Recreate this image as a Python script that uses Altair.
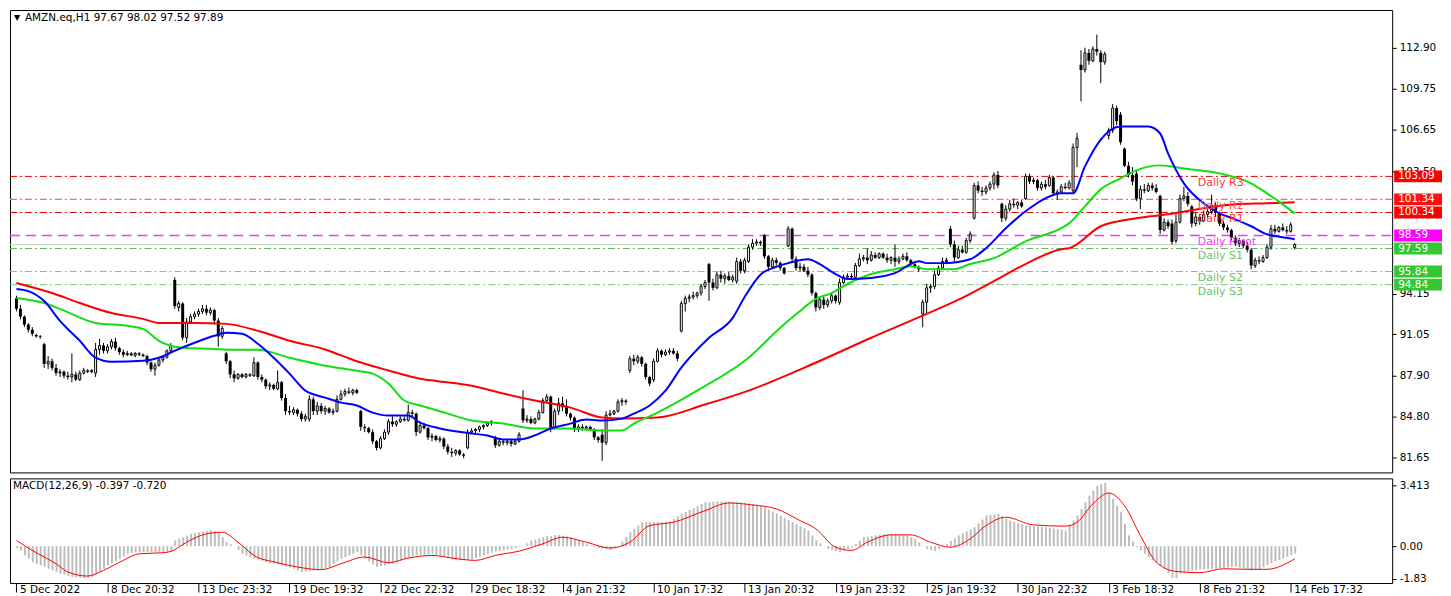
import altair as alt
import pandas as pd

# ---------------- data ----------------
OPEN = [93.8, 93.0, 92.4, 91.8, 91.4, 91.0, 90.9, 90.3, 88.8, 89.0,
        88.5, 88.1, 88.2, 87.9, 87.8, 88.0, 87.6, 88.1, 88.3, 88.2,
        88.1, 89.9, 90.2, 89.8, 90.1, 90.5, 90.0, 89.7, 89.5, 89.6,
        89.45, 89.6, 89.5, 89.4, 88.9, 88.4, 88.7, 89.1, 89.3, 89.8,
        95.2, 93.1, 93.4, 90.8, 92.0, 92.4, 92.6, 92.8, 93.0, 92.7,
        92.9, 92.1, 90.9, 89.6, 89.0, 88.0, 87.7, 88.0, 87.8, 88.0,
        87.9, 88.9, 87.8, 87.6, 87.1, 87.2, 86.9, 87.4, 86.2, 85.2,
        85.1, 85.3, 85.0, 84.6, 84.6, 86.1, 85.2, 85.6, 85.2, 85.4,
        85.1, 85.2, 86.1, 86.5, 86.7, 86.6, 86.8, 85.2, 84.0, 83.9,
        83.6, 82.9, 82.4, 83.1, 83.6, 84.4, 84.2, 84.4, 84.6, 84.5,
        85.1, 85.0, 83.6, 84.1, 83.9, 83.2, 83.3, 83.0, 83.1, 82.5,
        82.1, 82.0, 82.2, 81.9, 82.4, 83.6, 83.7, 83.8, 84.0, 84.1,
        84.3, 83.2, 82.6, 82.9, 82.8, 82.9, 82.7, 82.9, 85.4, 84.5,
        84.6, 84.3, 84.6, 85.1, 86.0, 86.3, 83.9, 85.2, 85.8, 85.5,
        85.0, 84.7, 83.8, 84.0, 83.9, 84.0, 83.8, 83.2, 83.4, 82.8,
        84.9, 85.0, 85.2, 85.9, 86.0, 88.3, 89.2, 89.0, 89.3, 88.8,
        87.8, 87.6, 89.0, 89.8, 89.5, 89.7, 89.8, 89.6, 91.3, 93.4,
        93.8, 93.9, 94.0, 94.2, 94.7, 96.4, 95.0, 94.6, 95.6, 95.3,
        95.5, 95.2, 95.1, 96.6, 95.9, 96.6, 97.7, 98.0, 98.1, 98.6,
        97.0, 96.2, 96.7, 96.5, 96.1, 97.8, 99.1, 96.8, 96.1, 96.2,
        95.9, 95.6, 94.2, 93.1, 93.7, 93.3, 93.6, 94.0, 93.5, 95.0,
        95.4, 95.5, 95.4, 96.3, 96.8, 96.9, 96.7, 97.1, 96.9, 97.2,
        96.9, 96.7, 96.9, 96.6, 96.8, 97.0, 96.7, 96.4, 96.2, 92.6,
        93.5, 94.6, 94.7, 95.6, 96.1, 96.6, 99.1, 97.9, 96.9, 97.5,
        97.3, 98.2, 99.9, 102.4, 102.0, 101.9, 102.2, 102.5, 103.2, 101.0,
        99.9, 100.6, 101.0, 100.9, 101.1, 101.4, 103.1, 102.7, 102.8, 102.2,
        102.5, 102.4, 103.0, 101.8, 101.9, 102.3, 102.2, 102.0, 105.3, 111.6,
        111.2, 112.5, 111.9, 112.8, 112.5, 111.8, 106.2, 106.6, 108.3, 107.8,
        105.2, 103.9, 103.2, 103.3, 101.4, 102.1, 102.0, 102.4, 102.2, 101.6,
        99.0, 99.6, 99.5, 98.2, 99.6, 101.4, 101.6, 100.8, 99.5, 100.0,
        99.7, 100.2, 100.4, 100.9, 100.3, 99.5, 99.2, 99.0, 98.4, 98.0,
        98.2, 97.8, 97.5, 96.3, 96.7, 96.6, 96.9, 97.7, 99.1, 98.9,
        99.2, 99.0, 98.9, 97.67]
HIGH = [94.0, 93.3, 92.5, 91.9, 91.6, 91.1, 91.0, 90.4, 89.4, 89.2,
        88.8, 88.4, 88.3, 88.2, 89.6, 88.2, 88.3, 88.5, 88.4, 88.4,
        90.4, 90.7, 90.4, 90.3, 90.7, 90.8, 90.1, 89.9, 89.8, 89.7,
        89.7, 89.7, 89.6, 89.5, 89.0, 88.9, 89.2, 89.4, 89.9, 90.4,
        95.4, 93.6, 93.5, 92.3, 92.6, 92.8, 93.0, 93.3, 93.3, 93.1,
        93.0, 92.3, 91.7, 89.7, 89.1, 88.3, 88.1, 88.1, 88.1, 88.1,
        89.3, 89.0, 88.0, 87.7, 87.4, 87.3, 88.3, 87.5, 86.5, 85.6,
        85.5, 85.4, 85.2, 85.0, 86.4, 86.3, 85.9, 85.8, 85.6, 85.5,
        85.4, 86.4, 86.8, 86.9, 87.0, 86.9, 86.9, 85.3, 84.2, 84.0,
        83.8, 83.0, 83.3, 83.8, 84.6, 84.8, 84.5, 84.8, 84.8, 85.7,
        85.3, 85.1, 84.4, 84.3, 84.0, 83.5, 83.4, 83.3, 83.2, 82.7,
        82.4, 82.3, 82.3, 82.0, 83.8, 83.9, 83.9, 84.1, 84.2, 84.4,
        84.5, 83.3, 83.1, 83.0, 83.1, 83.0, 83.0, 83.6, 86.8, 84.9,
        84.8, 84.7, 85.3, 86.2, 86.5, 86.4, 85.4, 86.2, 86.3, 86.1,
        85.1, 84.8, 84.2, 84.2, 84.1, 84.1, 83.9, 83.3, 83.8, 85.2,
        85.3, 85.3, 86.1, 86.2, 86.1, 89.4, 89.5, 89.5, 89.4, 88.9,
        87.9, 89.2, 90.0, 89.9, 89.9, 90.0, 90.0, 89.8, 93.6, 94.0,
        94.1, 94.3, 94.3, 94.9, 95.2, 96.5, 95.3, 95.8, 95.9, 95.7,
        95.8, 95.6, 96.9, 96.8, 96.9, 97.9, 98.3, 98.3, 98.2, 98.7,
        97.1, 96.9, 96.9, 96.6, 96.2, 99.3, 99.2, 97.0, 96.5, 96.4,
        96.2, 95.7, 94.3, 93.9, 93.9, 93.8, 94.2, 94.1, 95.3, 95.6,
        95.7, 95.7, 96.5, 97.2, 97.1, 97.6, 97.4, 97.3, 97.3, 97.3,
        97.2, 97.0, 97.9, 97.0, 97.2, 97.3, 96.8, 96.6, 96.3, 93.7,
        94.9, 94.9, 95.9, 96.3, 96.9, 96.9, 99.3, 98.2, 97.8, 97.8,
        98.4, 98.9, 102.6, 102.7, 102.3, 102.4, 102.7, 103.4, 103.5, 101.1,
        100.9, 101.3, 101.4, 101.2, 101.3, 103.3, 103.3, 103.0, 102.9, 102.7,
        102.8, 103.2, 103.1, 102.1, 102.5, 102.6, 102.8, 105.6, 106.4, 112.7,
        112.9, 112.8, 113.0, 113.9, 112.7, 112.6, 106.8, 108.6, 108.5, 108.0,
        105.3, 104.2, 103.8, 103.5, 102.4, 102.5, 102.6, 102.6, 102.5, 101.7,
        99.9, 99.8, 99.8, 100.3, 101.7, 102.3, 101.9, 100.9, 100.3, 100.2,
        100.5, 100.6, 101.7, 101.1, 100.4, 99.7, 99.4, 99.1, 98.6, 98.4,
        98.3, 98.1, 97.6, 96.9, 97.0, 97.1, 97.9, 99.4, 99.4, 99.3,
        99.5, 99.3, 99.6, 98.02]
LOW = [92.8, 92.2, 91.6, 91.2, 90.9, 90.8, 90.7, 88.5, 88.4, 88.3,
       87.9, 87.8, 87.7, 87.6, 87.4, 87.5, 87.5, 88.0, 88.1, 88.1,
       87.8, 89.5, 89.6, 89.6, 89.9, 89.8, 89.5, 89.3, 89.4, 89.4,
       89.3, 89.4, 89.3, 88.7, 88.2, 87.9, 88.6, 88.9, 89.2, 89.7,
       93.0, 92.8, 90.6, 90.4, 91.9, 92.2, 92.4, 92.6, 92.5, 92.5,
       91.8, 90.1, 90.7, 88.8, 87.7, 87.4, 87.6, 87.7, 87.7, 87.8,
       87.8, 87.6, 87.4, 86.9, 86.8, 86.8, 86.8, 86.0, 84.9, 84.9,
       84.9, 84.8, 84.4, 84.4, 84.4, 84.9, 84.9, 85.0, 84.9, 85.0,
       84.9, 85.1, 86.0, 86.3, 86.5, 86.4, 86.5, 83.7, 83.6, 83.5,
       82.7, 82.2, 82.3, 83.0, 83.4, 84.0, 84.0, 84.3, 84.4, 84.4,
       84.8, 83.3, 83.5, 83.8, 83.0, 82.9, 82.9, 82.8, 82.3, 81.9,
       81.7, 81.8, 81.8, 81.6, 82.3, 83.5, 83.5, 83.6, 83.8, 84.0,
       84.1, 82.4, 82.5, 82.6, 82.6, 82.5, 82.6, 82.8, 84.3, 84.3,
       84.2, 84.2, 84.5, 85.0, 85.8, 83.6, 83.8, 84.9, 85.2, 84.8,
       84.5, 83.6, 83.6, 83.7, 83.7, 83.7, 83.0, 82.8, 81.4, 82.6,
       84.8, 84.9, 85.1, 85.6, 85.7, 88.1, 88.7, 88.8, 88.6, 87.6,
       87.1, 87.4, 88.9, 89.3, 89.4, 89.5, 89.5, 89.0, 91.2, 92.8,
       93.5, 93.7, 93.8, 94.0, 94.5, 93.6, 94.4, 94.5, 95.0, 94.9,
       95.1, 95.0, 94.9, 95.7, 95.7, 96.5, 97.5, 97.8, 97.8, 96.8,
       96.0, 96.1, 96.3, 95.9, 95.6, 97.7, 96.6, 95.9, 95.8, 95.8,
       95.4, 94.0, 92.8, 92.9, 93.0, 93.1, 93.4, 93.4, 93.3, 94.9,
       95.2, 95.2, 95.3, 96.2, 96.6, 96.4, 96.6, 96.8, 96.8, 96.8,
       96.5, 96.4, 96.2, 96.4, 96.7, 96.6, 96.3, 96.1, 95.8, 91.6,
       92.6, 94.2, 94.5, 95.5, 96.0, 96.4, 97.7, 96.6, 96.8, 97.2,
       97.2, 98.0, 99.8, 101.8, 101.6, 101.7, 102.0, 102.1, 102.2, 99.6,
       99.7, 100.4, 100.7, 100.6, 100.7, 101.3, 102.5, 102.5, 102.0, 102.0,
       102.1, 102.3, 101.6, 101.3, 101.8, 102.1, 102.1, 101.8, 103.8, 108.8,
       111.0, 111.6, 111.8, 112.3, 110.2, 111.6, 105.9, 106.4, 107.0, 105.5,
       103.8, 103.0, 102.4, 101.2, 100.6, 101.8, 101.9, 102.0, 101.8, 98.7,
       98.9, 99.1, 97.9, 98.0, 99.5, 101.2, 100.8, 99.2, 99.3, 99.4,
       99.6, 99.9, 100.2, 100.0, 99.3, 99.0, 98.8, 98.2, 97.8, 97.7,
       97.6, 97.3, 96.0, 96.1, 96.4, 96.5, 96.8, 97.5, 98.7, 98.8,
       98.9, 98.7, 98.8, 97.52]
CLOSE = [93.0, 92.4, 91.8, 91.4, 91.1, 90.9, 90.85, 88.8, 89.0, 88.5,
         88.1, 88.2, 87.9, 87.8, 88.0, 87.6, 88.1, 88.3, 88.2, 88.3,
         89.9, 90.2, 89.8, 90.1, 90.5, 90.0, 89.7, 89.5, 89.6, 89.45,
         89.6, 89.5, 89.4, 88.9, 88.4, 88.7, 89.1, 89.3, 89.8, 90.2,
         93.2, 93.4, 90.8, 92.0, 92.4, 92.6, 92.8, 93.0, 92.7, 92.9,
         92.1, 90.9, 91.5, 89.0, 88.0, 87.7, 88.0, 87.8, 88.0, 87.9,
         88.9, 87.8, 87.6, 87.1, 87.2, 86.9, 87.4, 86.2, 85.2, 85.1,
         85.3, 85.0, 84.6, 84.8, 86.1, 85.2, 85.6, 85.2, 85.4, 85.1,
         85.2, 86.1, 86.5, 86.7, 86.6, 86.8, 86.6, 84.0, 83.9, 83.6,
         82.9, 82.4, 83.1, 83.6, 84.4, 84.2, 84.4, 84.6, 84.5, 85.1,
         85.0, 83.6, 84.1, 83.9, 83.2, 83.3, 83.0, 83.1, 82.5, 82.1,
         82.0, 82.2, 81.9, 81.8, 83.6, 83.7, 83.8, 84.0, 84.1, 84.3,
         84.4, 82.6, 82.9, 82.8, 82.9, 82.7, 82.9, 83.4, 84.5, 84.6,
         84.3, 84.6, 85.1, 86.0, 86.3, 83.9, 85.2, 85.8, 85.5, 85.0,
         84.7, 83.8, 84.0, 83.9, 84.0, 83.8, 83.2, 83.0, 82.8, 84.9,
         85.0, 85.2, 85.9, 86.0, 85.9, 89.2, 89.0, 89.3, 88.8, 87.8,
         87.3, 89.0, 89.8, 89.5, 89.7, 89.8, 89.6, 89.2, 93.4, 93.8,
         93.9, 94.0, 94.2, 94.7, 95.0, 95.0, 94.6, 95.6, 95.3, 95.5,
         95.2, 95.4, 96.6, 95.9, 96.7, 97.7, 98.0, 98.1, 98.0, 97.0,
         96.2, 96.7, 96.5, 96.1, 95.7, 99.1, 96.8, 96.1, 96.2, 95.9,
         95.6, 94.2, 93.1, 93.7, 93.3, 93.6, 94.0, 93.6, 95.0, 95.4,
         95.5, 95.4, 96.3, 96.8, 96.9, 96.7, 97.1, 96.9, 97.2, 96.9,
         96.7, 96.9, 96.6, 96.8, 97.0, 96.7, 96.4, 96.2, 96.0, 93.5,
         94.6, 94.7, 95.6, 96.1, 96.6, 96.7, 97.9, 96.9, 97.5, 97.3,
         98.2, 98.7, 102.4, 102.0, 101.9, 102.2, 102.5, 103.2, 102.4, 99.9,
         100.6, 101.0, 100.9, 101.1, 100.8, 103.1, 102.7, 102.8, 102.2, 102.5,
         102.3, 103.0, 101.8, 101.9, 102.3, 102.2, 102.6, 105.3, 106.0, 111.2,
         112.5, 111.9, 112.8, 112.6, 111.8, 112.4, 106.6, 108.3, 107.3, 105.7,
         103.9, 103.2, 102.7, 101.4, 102.1, 102.0, 102.4, 102.2, 101.9, 99.0,
         99.6, 99.3, 98.1, 99.6, 101.4, 101.6, 101.0, 99.5, 100.0, 99.7,
         100.2, 100.4, 100.9, 100.3, 99.5, 99.2, 99.0, 98.4, 98.0, 98.2,
         97.8, 97.5, 96.3, 96.7, 96.6, 96.9, 97.7, 99.1, 98.9, 99.2,
         99.0, 98.9, 99.4, 97.89]

BLUE_I = [0, 3, 7, 11, 16, 20, 24, 32, 36, 40, 45, 50, 53, 57, 61, 65, 69, 73, 78, 82,
          86, 90, 94, 99, 102, 107, 115, 119, 123, 127, 131, 135, 140, 144, 148, 153, 156, 160, 164, 168,
          175, 181, 184, 188, 192, 195, 200, 203, 207, 210, 216, 222, 228, 230, 234, 241, 245, 250, 255, 260,
          264, 267, 270, 274, 279, 283, 286, 289, 291, 295, 300, 304, 308, 312, 316, 320, 323]
BLUE_V = [94.51, 94.35, 93.59, 92.08, 90.56, 89.27, 88.96, 89.04, 89.27, 89.80, 90.41, 90.94, 91.17, 91.09, 90.33, 89.27, 88.06, 86.76, 86.23, 85.85,
          85.63, 85.09, 84.86, 84.86, 84.33, 83.88, 83.50, 83.35, 83.04, 83.04, 83.35, 83.88, 84.25, 84.56, 84.48, 84.63, 85.01, 85.63, 86.76, 88.51,
          90.79, 92.31, 93.9, 95.6, 96.2, 96.48, 96.78, 96.41, 95.65, 95.27, 95.34, 95.72, 96.63, 96.48, 96.48, 96.78, 97.62, 99.14, 100.43, 101.42,
          101.80, 101.80, 103.85, 105.9, 106.89, 106.89, 106.89, 106.36, 104.84, 102.56, 101.04, 100.28, 99.82, 99.29, 98.68, 98.45, 98.30]
GREEN_I = [0, 7, 11, 20, 28, 32, 36, 42, 49, 55, 61, 69, 78, 86, 90, 94, 98, 102, 109, 115,
           123, 131, 140, 148, 153, 156, 162, 172, 185, 193, 198, 202, 206, 210, 216, 222, 226, 230, 237, 241,
           247, 255, 264, 266, 270, 274, 279, 283, 289, 295, 304, 312, 316, 320, 323]
GREEN_V = [93.83, 93.44, 92.99, 91.92, 91.70, 91.47, 90.56, 90.03, 89.95, 89.88, 89.88, 89.27, 88.66, 88.28, 88.06, 87.30, 86.01, 85.63, 85.01, 84.48,
           84.25, 83.88, 83.88, 83.73, 83.73, 84.25, 85.09, 86.76, 89.27, 91.55, 92.83, 93.75, 94.20, 94.89, 95.65, 96.02, 96.25, 96.02, 96.02, 96.41,
           96.86, 98.14, 99.14, 99.51, 100.81, 102.1, 102.94, 103.55, 103.93, 103.7, 103.32, 102.56, 101.8, 100.96, 100.27]
RED_I = [0, 9, 16, 24, 32, 36, 45, 53, 61, 69, 78, 86, 94, 102, 106, 115, 123, 131, 140, 148,
         153, 162, 174, 185, 199, 216, 220, 230, 239, 247, 255, 264, 266, 274, 283, 291, 300, 308, 316, 323]
RED_V = [94.97, 94.20, 93.44, 92.68, 92.23, 91.92, 91.92, 91.85, 91.32, 90.56, 89.9, 89.0, 88.3, 87.67, 87.5, 87.14, 86.54, 86.01, 85.47, 84.71,
         84.63, 84.71, 85.7, 86.76, 88.5, 90.79, 91.32, 92.61, 93.83, 95.11, 96.41, 97.54, 97.62, 99.29, 99.90, 100.2, 100.66, 100.96, 101.04, 101.12]

MACD_HIST = [-0.10, -0.25, -0.52, -0.70, -0.90, -1.00, -1.08, -1.15, -1.27, -1.36,
             -1.45, -1.55, -1.61, -1.67, -1.73, -1.76, -1.78, -1.79, -1.77, -1.73,
             -1.60, -1.45, -1.27, -1.08, -0.95, -0.83, -0.71, -0.57, -0.43, -0.38,
             -0.34, -0.34, -0.34, -0.34, -0.34, -0.34, -0.33, -0.33, -0.32, -0.30,
             0.32, 0.42, 0.50, 0.60, 0.69, 0.74, 0.78, 0.82, 0.85, 0.88,
             0.84, 0.78, 0.50, 0.22, 0.10, 0.00, -0.22, -0.43, -0.53, -0.62,
             -0.71, -0.77, -0.83, -0.89, -0.94, -0.99, -1.04, -1.08, -1.14, -1.20,
             -1.27, -1.36, -1.45, -1.43, -1.41, -1.38, -1.36, -1.30, -1.23, -1.17,
             -1.02, -0.86, -0.71, -0.62, -0.52, -0.43, -0.34, -0.52, -0.71, -0.86,
             -1.02, -1.17, -1.12, -1.08, -1.03, -0.99, -0.90, -0.80, -0.71, -0.65,
             -0.58, -0.52, -0.50, -0.47, -0.45, -0.43, -0.49, -0.55, -0.61, -0.67,
             -0.74, -0.80, -0.79, -0.78, -0.77, -0.75, -0.67, -0.60, -0.52, -0.45,
             -0.37, -0.30, -0.26, -0.22, -0.19, -0.15, -0.10, -0.05, 0.00, 0.16,
             0.32, 0.38, 0.44, 0.50, 0.56, 0.58, 0.61, 0.63, 0.59, 0.55,
             0.50, 0.41, 0.32, 0.22, 0.13, 0.05, -0.03, -0.11, -0.14, -0.17,
             -0.19, -0.10, 0.00, 0.26, 0.52, 0.78, 0.97, 1.15, 1.34, 1.34,
             1.34, 1.34, 1.34, 1.35, 1.37, 1.38, 1.52, 1.67, 1.81, 1.92,
             2.03, 2.14, 2.26, 2.37, 2.46, 2.47, 2.49, 2.50, 2.50, 2.50,
             2.50, 2.50, 2.47, 2.45, 2.42, 2.40, 2.37, 2.31, 2.24, 2.18,
             2.06, 1.95, 1.83, 1.71, 1.59, 1.46, 1.34, 1.23, 1.11, 1.00,
             0.88, 0.60, 0.32, 0.16, 0.00, -0.15, -0.21, -0.28, -0.34, -0.25,
             -0.15, -0.06, 0.13, 0.31, 0.50, 0.53, 0.57, 0.60, 0.63, 0.65,
             0.67, 0.69, 0.67, 0.65, 0.62, 0.60, 0.50, 0.41, 0.22, 0.03,
             -0.15, -0.22, -0.28, -0.14, 0.00, 0.13, 0.29, 0.44, 0.60, 0.71,
             0.83, 0.94, 1.06, 1.28, 1.49, 1.71, 1.74, 1.78, 1.81, 1.68,
             1.56, 1.43, 1.36, 1.29, 1.22, 1.15, 1.13, 1.12, 1.10, 1.08,
             1.06, 1.02, 0.99, 0.95, 0.92, 0.88, 1.16, 1.43, 1.71, 2.08,
             2.46, 2.83, 3.11, 3.39, 3.47, 3.54, 3.02, 2.65, 2.27, 1.90,
             1.25, 0.60, 0.27, -0.06, -0.24, -0.43, -0.61, -0.78, -0.94, -1.11,
             -1.27, -1.53, -1.78, -1.80, -1.55, -1.48, -1.42, -1.38, -1.35, -1.32,
             -1.30, -1.29, -1.28, -1.27, -1.25, -1.22, -1.20, -1.17, -1.15, -1.20,
             -1.25, -1.30, -1.36, -1.33, -1.30, -1.18, -1.05, -0.95, -0.85, -0.78,
             -0.70, -0.60, -0.50, -0.40]
SIGNAL_I = [0, 4, 10, 13, 18, 22, 27, 31, 37, 39, 43, 48, 52, 56, 60, 66, 71, 77, 82, 88,
            94, 99, 105, 110, 116, 121, 127, 133, 138, 144, 150, 155, 160, 166, 174, 180, 186, 192, 198, 202,
            207, 211, 215, 221, 226, 231, 236, 241, 245, 250, 257, 265, 268, 272, 276, 280, 284, 288, 293, 299,
            305, 311, 316, 323]
SIGNAL_V = [0.32, -0.24, -0.99, -1.45, -1.68, -1.36, -0.80, -0.43, -0.37, -0.30, 0.22, 0.69, 0.78, 0.22, -0.52, -0.93, -1.17, -1.32, -0.99, -0.61,
            -0.93, -0.67, -0.52, -0.67, -0.80, -0.52, -0.28, 0.13, 0.50, 0.22, -0.11, 0.22, 1.15, 1.34, 1.99, 2.42, 2.31, 2.09, 1.43, 0.97,
            -0.06, -0.24, 0.22, 0.63, 0.63, 0.22, -0.06, 0.41, 1.15, 1.62, 1.19, 1.12, 1.34, 2.37, 2.98, 2.27, 0.60, -0.89, -1.42, -1.49,
            -1.27, -1.30, -1.30, -0.72]

PIVOT_NAMES = ["Daily R3", "Daily R2", "Daily R1", "Daily Pivot", "Daily S1", "Daily S2", "Daily S3"]
PIVOT_VALUES = [103.09, 101.34, 100.34, 98.59, 97.59, 95.84, 94.84]
BID = 97.89

TICK_BARS = [0, 23, 46, 69, 92, 115, 138, 161, 184, 207, 230, 253, 276, 299, 322]
TICK_LABELS = ["5 Dec 2022", "8 Dec 20:32", "13 Dec 23:32", "19 Dec 19:32", "22 Dec 22:32",
               "29 Dec 18:32", "4 Jan 21:32", "10 Jan 17:32", "13 Jan 20:32", "19 Jan 23:32",
               "25 Jan 19:32", "30 Jan 22:32", "3 Feb 18:32", "8 Feb 21:32", "14 Feb 17:32"]
PRICE_TICKS = [81.65, 84.80, 87.90, 91.05, 94.15, 103.50, 106.65, 109.75, 112.90]
MACD_TICKS = [3.413, 0.0, -1.83]

TITLE = "AMZN.eq,H1  97.67 98.02 97.52 97.89"
MACD_TITLE = "MACD(12,26,9) -0.397 -0.720"

# ---------------- styling ----------------
W = 1387
H_MAIN = 464
H_MACD = 105
X_DOMAIN = [-0.375, -0.375 + W / 4.0]
P_DOMAIN = [80.53, 115.77]
M_DOMAIN = [-2.07, 3.80]
FONT = "DejaVu Sans"
FS = 10.5

LINE_COLORS = ["#e00000", "#ff6a6a", "#e00000", "#ff33ff", "#55bb55", "#77cc77", "#77cc77"]
LINE_DASH = [[7, 3, 2, 3], [7, 3, 2, 3], [7, 3, 2, 3], [10, 6], [7, 3, 2, 3], [7, 3, 2, 3], [7, 3, 2, 3]]
LINE_W = [1, 1.3, 1, 1.5, 1, 1, 1]
TEXT_COLORS = ["#ff3333", "#ff4d4d", "#ff3333", "#ff33ff", "#66c466", "#66c466", "#66c466"]
TAG_COLORS = ["#ff0000", "#ff1010", "#ff0000", "#ff00ff", "#32c832", "#32c832", "#32c832"]

n = len(CLOSE)
candles = pd.DataFrame({"i": list(range(n)), "o": OPEN, "h": HIGH, "l": LOW, "c": CLOSE})
candles["lo"] = candles[["o", "c"]].min(axis=1)
candles["hi"] = candles[["o", "c"]].max(axis=1)
bull = candles[candles["c"] >= candles["o"]]
bear = candles[candles["c"] < candles["o"]]

xs = alt.Scale(domain=X_DOMAIN, nice=False, zero=False)
X_MAIN = alt.X("i:Q", scale=xs, axis=None, title=None)

ys = alt.Scale(domain=P_DOMAIN, nice=False, zero=False)
yaxis = alt.Axis(orient="right", values=PRICE_TICKS, labelExpr="format(datum.value, '.2f')",
                 tickSize=4, labelPadding=3, domain=False, grid=False, labelOverlap=False,
                 labelFlush=False, labelBound=False, title=None)


def YP(field):
    return alt.Y(field, scale=ys, axis=yaxis, title=None)


layers = []
# pivot lines
for val, lc, dash, sw in zip(PIVOT_VALUES, LINE_COLORS, LINE_DASH, LINE_W):
    layers.append(alt.Chart(pd.DataFrame({"p": [val]})).mark_rule(
        color=lc, strokeDash=dash, strokeWidth=sw).encode(
        x=alt.value(0), x2=alt.value(W), y=YP("p:Q")))
# bid line
layers.append(alt.Chart(pd.DataFrame({"p": [BID]})).mark_rule(color="#c8c8c8", strokeWidth=1).encode(
    x=alt.value(0), x2=alt.value(W), y=YP("p:Q")))
# candles
layers.append(alt.Chart(candles).mark_rule(color="black", strokeWidth=1).encode(
    x=X_MAIN, y=YP("l:Q"), y2="h:Q"))
layers.append(alt.Chart(bear).mark_bar(size=3, color="black").encode(
    x=X_MAIN, y=YP("lo:Q"), y2="hi:Q"))
layers.append(alt.Chart(bull).mark_bar(size=2, fill="white", stroke="black", strokeWidth=1).encode(
    x=X_MAIN, y=YP("lo:Q"), y2="hi:Q"))
# moving averages
for I, V, col in [(RED_I, RED_V, "#ff0000"), (GREEN_I, GREEN_V, "#11e011"), (BLUE_I, BLUE_V, "#0000ff")]:
    layers.append(alt.Chart(pd.DataFrame({"i": I, "v": V})).mark_line(
        color=col, strokeWidth=2, interpolate="monotone").encode(x=X_MAIN, y=YP("v:Q")))
# pivot labels
for name, val, tc in zip(PIVOT_NAMES, PIVOT_VALUES, TEXT_COLORS):
    layers.append(alt.Chart(pd.DataFrame({"p": [val], "t": [name]})).mark_text(
        align="left", baseline="top", dy=1, font=FONT, fontSize=11, color=tc).encode(
        x=alt.value(1192), y=YP("p:Q"), text="t:N"))
# price tags on the right scale
for val, tg in zip(PIVOT_VALUES, TAG_COLORS):
    df = pd.DataFrame({"p": [val], "t": ["%.2f" % val]})
    layers.append(alt.Chart(df).mark_rect(color=tg, yOffset=-6, y2Offset=6).encode(
        x=alt.value(W + 2), x2=alt.value(W + 50), y=YP("p:Q"), y2="p:Q"))
    layers.append(alt.Chart(df).mark_text(align="left", baseline="middle", font=FONT, fontSize=FS,
                                          color="white").encode(
        x=alt.value(W + 6), y=YP("p:Q"), text="t:N"))
# title
layers.append(alt.Chart(pd.DataFrame({"t": ["\u25BC"]})).mark_text(
    align="center", baseline="middle", font=FONT, fontSize=8, color="black").encode(
    x=alt.value(7), y=alt.value(8), text="t:N"))
layers.append(alt.Chart(pd.DataFrame({"t": [TITLE]})).mark_text(
    align="left", baseline="middle", font=FONT, fontSize=FS, color="black").encode(
    x=alt.value(15), y=alt.value(8), text="t:N"))

main = alt.layer(*layers).properties(width=W, height=H_MAIN)

# ---------------- MACD panel ----------------
label_expr = "[" + ",".join("'%s'" % s for s in TICK_LABELS) + "][round(datum.value/23)]"
xaxis = alt.Axis(values=TICK_BARS, labelExpr=label_expr, labelAlign="left", labelBaseline="top",
                 labelOffset=3, labelPadding=-7, tickSize=9, domain=False, grid=False,
                 labelOverlap=False, labelFlush=False, labelBound=False, title=None)
X_MACD = alt.X("i:Q", scale=xs, axis=xaxis, title=None)
ms = alt.Scale(domain=M_DOMAIN, nice=False, zero=False)
maxis = alt.Axis(orient="right", values=MACD_TICKS,
                 labelExpr="datum.value > 3 ? '3.413' : (datum.value < -1 ? '-1.83' : '0.00')",
                 tickSize=4, labelPadding=3, domain=False, grid=False, labelOverlap=False,
                 labelFlush=False, labelBound=False, title=None)


def YM(field):
    return alt.Y(field, scale=ms, axis=maxis, title=None)


hist = pd.DataFrame({"i": list(range(n)), "v": MACD_HIST})
sig = pd.DataFrame({"i": SIGNAL_I, "v": SIGNAL_V})
macd = alt.layer(
    alt.Chart(hist).mark_bar(size=2, color="#bdbdbd", xOffset=0.5).encode(
        x=X_MACD, y=YM("v:Q"), y2=alt.datum(0)),
    alt.Chart(sig).mark_line(color="#ff0000", strokeWidth=1, interpolate="monotone").encode(
        x=X_MACD, y=YM("v:Q")),
    alt.Chart(pd.DataFrame({"t": [MACD_TITLE]})).mark_text(
        align="left", baseline="middle", font=FONT, fontSize=FS, color="black").encode(
        x=alt.value(3), y=alt.value(8), text="t:N"),
).properties(width=W, height=H_MACD)

chart = alt.vconcat(main, macd, spacing=4).properties(
    padding=0, background="white"
).configure_view(stroke="black", strokeWidth=1).configure_axis(
    labelFont=FONT, labelFontSize=FS, labelColor="black", tickColor="black"
)

chart.save("out.html", embed_options={"renderer": "svg", "actions": False})
